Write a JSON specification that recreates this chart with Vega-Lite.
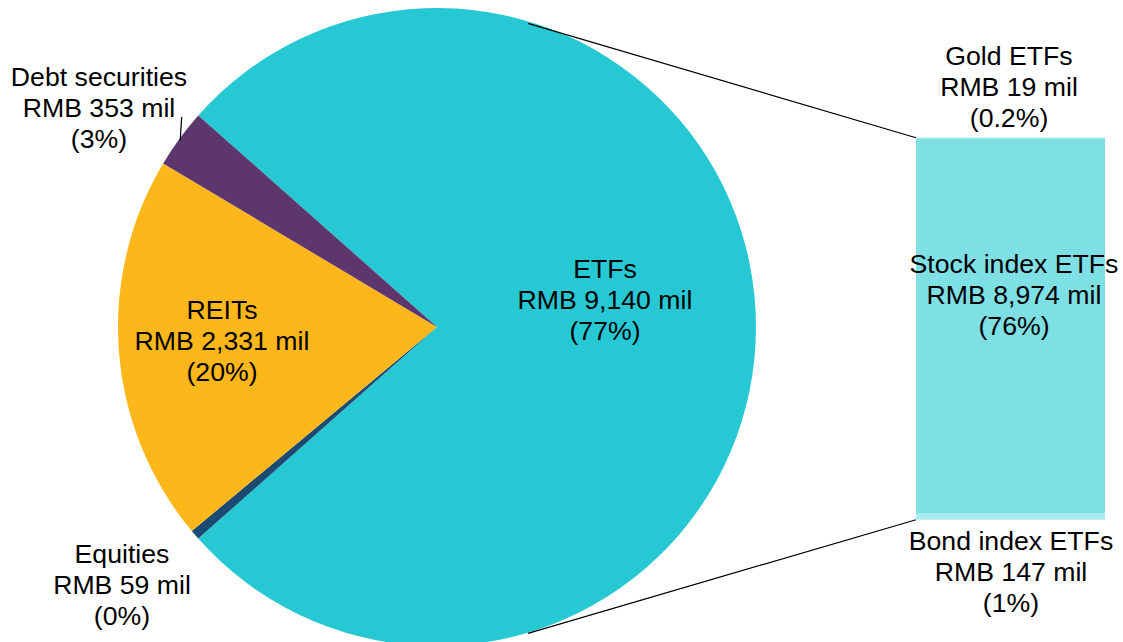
{
  "$schema": "https://vega.github.io/schema/vega-lite/v6.json",
  "width": 1123,
  "height": 642,
  "autosize": {"type": "none"},
  "padding": 0,
  "background": "white",
  "config": {
    "view": {"stroke": null},
    "text": {"font": "Liberation Sans", "fontSize": 26.67, "lineHeight": 31, "color": "black", "lineBreak": "\n", "align": "center", "baseline": "middle"}
  },
  "datasets": {
    "pie": [
      {"category": "ETFs", "value": 9140, "label": "ETFs\nRMB 9,140 mil\n(77%)"},
      {"category": "Equities", "value": 59, "label": "Equities\nRMB 59 mil\n(0%)"},
      {"category": "REITs", "value": 2331, "label": "REITs\nRMB 2,331 mil\n(20%)"},
      {"category": "Debt securities", "value": 353, "label": "Debt securities\nRMB 353 mil\n(3%)"}
    ],
    "bar": [
      {"category": "Bond index ETFs", "value": 147, "stack_order": 1, "label": "Bond index ETFs\nRMB 147 mil\n(1%)"},
      {"category": "Stock index ETFs", "value": 8974, "stack_order": 2, "label": "Stock index ETFs\nRMB 8,974 mil\n(76%)"},
      {"category": "Gold ETFs", "value": 19, "stack_order": 3, "label": "Gold ETFs\nRMB 19 mil\n(0.2%)"}
    ]
  },
  "layer": [
    {
      "data": {"name": "pie"},
      "transform": [{"stack": "value", "groupby": [], "sort": [{"field": "category", "order": "ascending"}], "as": ["a0", "a1"]}],
      "mark": {"type": "arc", "outerRadius": 319},
      "encoding": {
        "x": {"datum": 437, "type": "quantitative", "stack": null, "scale": {"domain": [0, 1123], "nice": false, "zero": false}, "axis": null},
        "y": {"datum": 4611, "type": "quantitative", "stack": null, "scale": {"domain": [-2926, 12435], "nice": false, "zero": false}, "axis": null},
        "theta": {"field": "a0", "type": "quantitative", "stack": null, "scale": {"domain": [0, 11883], "range": [-1.03226, 5.25093], "nice": false, "zero": true}},
        "theta2": {"field": "a1"},
        "color": {"field": "category", "type": "nominal", "legend": null, "scale": {"domain": ["Debt securities", "ETFs", "Equities", "REITs"], "range": ["#5E366E", "#26C9D3", "#1B4A72", "#FDB71A"]}}
      }
    },
    {
      "data": {"name": "bar"},
      "transform": [{"stack": "value", "groupby": [], "sort": [{"field": "stack_order", "order": "ascending"}], "as": ["v0", "v1"]}],
      "mark": {"type": "bar"},
      "encoding": {
        "x": {"datum": 916, "type": "quantitative", "scale": {"domain": [0, 1123], "nice": false, "zero": false}, "axis": null},
        "x2": {"datum": 1105},
        "y": {"field": "v0", "type": "quantitative", "stack": null, "scale": {"domain": [-2926, 12435], "nice": false, "zero": false}, "axis": null},
        "y2": {"field": "v1"},
        "color": {"field": "category", "type": "nominal", "legend": null, "scale": {"domain": ["Gold ETFs", "Stock index ETFs", "Bond index ETFs"], "range": ["#7EDFE5", "#7EDFE5", "#A9EBEF"]}}
      }
    },
    {
      "data": {"values": [{}]},
      "mark": {"type": "rule", "color": "black", "strokeWidth": 1.2},
      "encoding": {
        "x": {"datum": 528, "type": "quantitative", "scale": {"domain": [0, 1123], "nice": false, "zero": false}, "axis": null},
        "y": {"datum": 11877, "type": "quantitative", "scale": {"domain": [-2926, 12435], "nice": false, "zero": false}, "axis": null},
        "x2": {"datum": 916},
        "y2": {"datum": 9140}
      }
    },
    {
      "data": {"values": [{}]},
      "mark": {"type": "rule", "color": "black", "strokeWidth": 1.2},
      "encoding": {
        "x": {"datum": 528, "type": "quantitative", "scale": {"domain": [0, 1123], "nice": false, "zero": false}, "axis": null},
        "y": {"datum": -2718, "type": "quantitative", "scale": {"domain": [-2926, 12435], "nice": false, "zero": false}, "axis": null},
        "x2": {"datum": 916},
        "y2": {"datum": 0}
      }
    },
    {
      "data": {"values": [{}]},
      "mark": {"type": "rule", "color": "black", "strokeWidth": 1.2},
      "encoding": {
        "x": {"datum": 181.7, "type": "quantitative", "scale": {"domain": [0, 1123], "nice": false, "zero": false}, "axis": null},
        "y": {"datum": 9635, "type": "quantitative", "scale": {"domain": [-2926, 12435], "nice": false, "zero": false}, "axis": null},
        "x2": {"datum": 180.2},
        "y2": {"datum": 9073}
      }
    },
    {
      "data": {"name": "pie"},
      "transform": [{"filter": "datum.category === 'ETFs'"}],
      "mark": {"type": "text"},
      "encoding": {
        "x": {"datum": 605, "type": "quantitative", "scale": {"domain": [0, 1123], "nice": false, "zero": false}, "axis": null},
        "y": {"datum": 5975, "type": "quantitative", "scale": {"domain": [-2926, 12435], "nice": false, "zero": false}, "axis": null},
        "text": {"field": "label", "type": "nominal"}
      }
    },
    {
      "data": {"name": "pie"},
      "transform": [{"filter": "datum.category === 'REITs'"}],
      "mark": {"type": "text"},
      "encoding": {
        "x": {"datum": 222, "type": "quantitative", "scale": {"domain": [0, 1123], "nice": false, "zero": false}, "axis": null},
        "y": {"datum": 4994, "type": "quantitative", "scale": {"domain": [-2926, 12435], "nice": false, "zero": false}, "axis": null},
        "text": {"field": "label", "type": "nominal"}
      }
    },
    {
      "data": {"name": "pie"},
      "transform": [{"filter": "datum.category === 'Debt securities'"}],
      "mark": {"type": "text"},
      "encoding": {
        "x": {"datum": 99, "type": "quantitative", "scale": {"domain": [0, 1123], "nice": false, "zero": false}, "axis": null},
        "y": {"datum": 10568, "type": "quantitative", "scale": {"domain": [-2926, 12435], "nice": false, "zero": false}, "axis": null},
        "text": {"field": "label", "type": "nominal"}
      }
    },
    {
      "data": {"name": "pie"},
      "transform": [{"filter": "datum.category === 'Equities'"}],
      "mark": {"type": "text"},
      "encoding": {
        "x": {"datum": 122, "type": "quantitative", "scale": {"domain": [0, 1123], "nice": false, "zero": false}, "axis": null},
        "y": {"datum": -845, "type": "quantitative", "scale": {"domain": [-2926, 12435], "nice": false, "zero": false}, "axis": null},
        "text": {"field": "label", "type": "nominal"}
      }
    },
    {
      "data": {"name": "bar"},
      "transform": [{"filter": "datum.category === 'Gold ETFs'"}],
      "mark": {"type": "text"},
      "encoding": {
        "x": {"datum": 1009, "type": "quantitative", "scale": {"domain": [0, 1123], "nice": false, "zero": false}, "axis": null},
        "y": {"datum": 11071, "type": "quantitative", "scale": {"domain": [-2926, 12435], "nice": false, "zero": false}, "axis": null},
        "text": {"field": "label", "type": "nominal"}
      }
    },
    {
      "data": {"name": "bar"},
      "transform": [{"filter": "datum.category === 'Stock index ETFs'"}],
      "mark": {"type": "text"},
      "encoding": {
        "x": {"datum": 1014, "type": "quantitative", "scale": {"domain": [0, 1123], "nice": false, "zero": false}, "axis": null},
        "y": {"datum": 6094, "type": "quantitative", "scale": {"domain": [-2926, 12435], "nice": false, "zero": false}, "axis": null},
        "text": {"field": "label", "type": "nominal"}
      }
    },
    {
      "data": {"name": "bar"},
      "transform": [{"filter": "datum.category === 'Bond index ETFs'"}],
      "mark": {"type": "text"},
      "encoding": {
        "x": {"datum": 1011, "type": "quantitative", "scale": {"domain": [0, 1123], "nice": false, "zero": false}, "axis": null},
        "y": {"datum": -534, "type": "quantitative", "scale": {"domain": [-2926, 12435], "nice": false, "zero": false}, "axis": null},
        "text": {"field": "label", "type": "nominal"}
      }
    }
  ],
  "resolve": {"scale": {"color": "independent"}}
}
